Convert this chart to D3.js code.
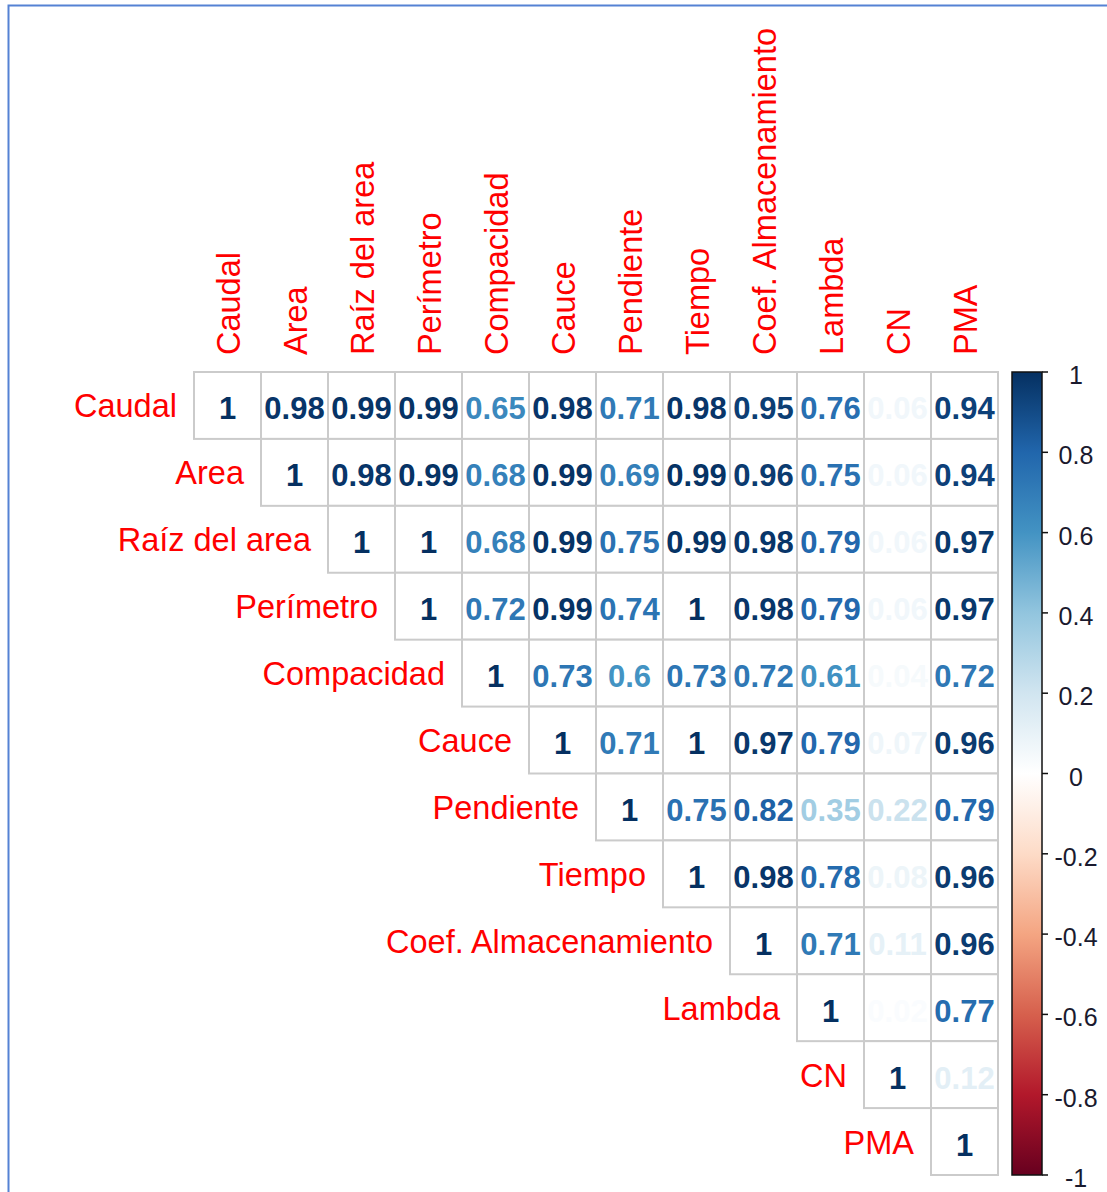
<!DOCTYPE html>
<html>
<head>
<meta charset="utf-8">
<script src="https://cdn.jsdelivr.net/npm/d3@7"></script>
<style>
  html, body { margin: 0; padding: 0; background: #fff; }
  svg { display: block; }
  text { font-family: "Liberation Sans", Arial, sans-serif; }
</style>
</head>
<body>
<svg id="chart" width="1107" height="1192"></svg>
<script>
// ---- data ----
const variables = ["Caudal", "Area", "Raíz del area", "Perímetro", "Compacidad", "Cauce",
  "Pendiente", "Tiempo", "Coef. Almacenamiento", "Lambda", "CN", "PMA"];

// upper triangle rows (starting at the diagonal)
const rowCaudal      = [1, 0.98, 0.99, 0.99, 0.65, 0.98, 0.71, 0.98, 0.95, 0.76, 0.06, 0.94];
const rowArea        = [1, 0.98, 0.99, 0.68, 0.99, 0.69, 0.99, 0.96, 0.75, 0.06, 0.94];
const rowRaiz        = [1, 1, 0.68, 0.99, 0.75, 0.99, 0.98, 0.79, 0.06, 0.97];
const rowPerimetro   = [1, 0.72, 0.99, 0.74, 1, 0.98, 0.79, 0.06, 0.97];
const rowCompacidad  = [1, 0.73, 0.6, 0.73, 0.72, 0.61, 0.04, 0.72];
const rowCauce       = [1, 0.71, 1, 0.97, 0.79, 0.07, 0.96];
const rowPendiente   = [1, 0.75, 0.82, 0.35, 0.22, 0.79];
const rowTiempo      = [1, 0.98, 0.78, 0.08, 0.96];
const rowCoef        = [1, 0.71, 0.11, 0.96];
const rowLambda      = [1, 0.02, 0.77];
const rowCN          = [1, 0.12];
const rowPMA         = [1];
const upperRows = [rowCaudal, rowArea, rowRaiz, rowPerimetro, rowCompacidad, rowCauce,
  rowPendiente, rowTiempo, rowCoef, rowLambda, rowCN, rowPMA];

const legendTicks = [1, 0.8, 0.6, 0.4, 0.2, 0, -0.2, -0.4, -0.6, -0.8, -1];
const paletteRdBu = ["#67001F", "#B2182B", "#D6604D", "#F4A582", "#FDDBC7", "#FFFFFF",
  "#D1E5F0", "#92C5DE", "#4393C3", "#2166AC", "#053061"];

// ---- build cells ----
const cells = [];
upperRows.forEach((row, i) => {
  row.forEach((v, k) => {
    cells.push({ r: variables[i], c: variables[i + k], v: v });
  });
});

const svg = d3.select("#chart");

// image frame
svg.append("rect")
  .attr("x", 8.5).attr("y", 5.5)
  .attr("width", 1200).attr("height", 1300)
  .attr("fill", "none").attr("stroke", "#5582d4").attr("stroke-width", 2);

const x = d3.scaleBand().domain(variables).range([194, 998]).padding(0);
const y = d3.scaleBand().domain(variables).range([372, 1175]).padding(0);
const color = d3.scaleLinear()
  .domain(d3.range(paletteRdBu.length).map(i => -1 + 2 * i / (paletteRdBu.length - 1)))
  .range(paletteRdBu)
  .interpolate(d3.interpolateRgb);

// grid cells
svg.append("g").selectAll("rect").data(cells).join("rect")
  .attr("x", d => x(d.c)).attr("y", d => y(d.r))
  .attr("width", x.bandwidth()).attr("height", y.bandwidth())
  .attr("fill", "#fff").attr("stroke", "#cbcbcb").attr("stroke-width", 2);

// numbers
svg.append("g").selectAll("text").data(cells).join("text")
  .attr("x", d => x(d.c) + x.bandwidth() / 2)
  .attr("y", d => y(d.r) + y.bandwidth() / 2 + 14)
  .attr("text-anchor", "middle")
  .attr("font-size", 31).attr("font-weight", "bold")
  .attr("fill", d => color(d.v))
  .text(d => String(d.v));

// row labels (right aligned, left of diagonal)
svg.append("g").selectAll("text").data(variables).join("text")
  .attr("x", d => x(d) - 17)
  .attr("y", d => y(d) + y.bandwidth() / 2 + 12)
  .attr("text-anchor", "end")
  .attr("font-size", 32.5).attr("fill", "#ff0000")
  .text(d => d);

// column labels (rotated)
svg.append("g").selectAll("text").data(variables).join("text")
  .attr("transform", d => `translate(${x(d) + x.bandwidth() / 2 + 12},${372 - 17}) rotate(-90)`)
  .attr("text-anchor", "start")
  .attr("font-size", 32.5).attr("fill", "#ff0000")
  .text(d => d);

// color legend
const legY = d3.scaleLinear().domain([1, -1]).range([372, 1175]);
const defs = svg.append("defs");
const grad = defs.append("linearGradient").attr("id", "cbar")
  .attr("x1", 0).attr("y1", 1).attr("x2", 0).attr("y2", 0);
paletteRdBu.forEach((c, i) => {
  grad.append("stop").attr("offset", i / (paletteRdBu.length - 1)).attr("stop-color", c);
});
svg.append("rect")
  .attr("x", 1012).attr("y", legY(1))
  .attr("width", 30).attr("height", legY(-1) - legY(1))
  .attr("fill", "url(#cbar)").attr("stroke", "#111").attr("stroke-width", 1.5);

const leg = svg.append("g");
leg.selectAll("line").data(legendTicks).join("line")
  .attr("x1", 1042).attr("x2", 1048)
  .attr("y1", d => legY(d)).attr("y2", d => legY(d))
  .attr("stroke", "#111").attr("stroke-width", 1.5);
leg.selectAll("text").data(legendTicks).join("text")
  .attr("x", 1076).attr("y", d => legY(d) + 12)
  .attr("text-anchor", "middle")
  .attr("font-size", 25).attr("fill", "#1a1a2e")
  .text(d => String(d));
</script>
</body>
</html>
